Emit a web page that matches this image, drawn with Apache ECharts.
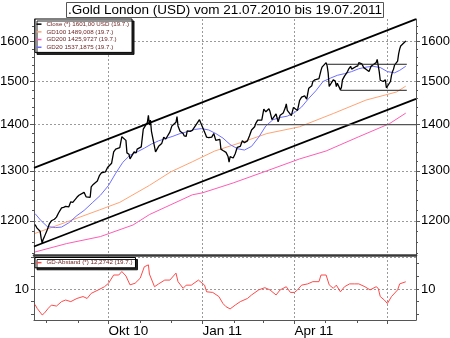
<!DOCTYPE html>
<html>
<head>
<meta charset="utf-8">
<script src="https://cdn.jsdelivr.net/npm/echarts@6/dist/echarts.min.js"></script>
<style>
html,body{margin:0;padding:0;background:#fff;}
#chart{width:450px;height:338px;}
</style>
</head>
<body>
<div id="chart"></div>
<script>
// Gold London fix, daily close (USD)
const closeDates = [
'2010-07-21','2010-07-22','2010-07-23','2010-07-26','2010-07-27','2010-07-28','2010-07-29','2010-07-30',
'2010-08-02','2010-08-04','2010-08-06','2010-08-09','2010-08-11','2010-08-13','2010-08-16','2010-08-18','2010-08-20','2010-08-23','2010-08-25','2010-08-27','2010-08-31',
'2010-09-02','2010-09-07','2010-09-09','2010-09-13','2010-09-14','2010-09-16','2010-09-20','2010-09-22','2010-09-24','2010-09-28','2010-09-30',
'2010-10-04','2010-10-06','2010-10-08','2010-10-12','2010-10-14','2010-10-18','2010-10-19','2010-10-21','2010-10-22','2010-10-26','2010-10-28','2010-10-29',
'2010-11-02','2010-11-04','2010-11-05','2010-11-08','2010-11-09','2010-11-10','2010-11-11','2010-11-12','2010-11-16','2010-11-17','2010-11-19','2010-11-22','2010-11-24','2010-11-26','2010-11-30',
'2010-12-02','2010-12-06','2010-12-07','2010-12-08','2010-12-10','2010-12-13','2010-12-14','2010-12-16','2010-12-17','2010-12-20','2010-12-22','2010-12-23','2010-12-29','2010-12-30','2010-12-31',
'2011-01-04','2011-01-05','2011-01-07','2011-01-10','2011-01-12','2011-01-14','2011-01-18','2011-01-19','2011-01-21','2011-01-24','2011-01-26','2011-01-27','2011-01-28','2011-01-31',
'2011-02-02','2011-02-04','2011-02-07','2011-02-09','2011-02-11','2011-02-14','2011-02-16','2011-02-18','2011-02-21','2011-02-22','2011-02-24','2011-02-28',
'2011-03-02','2011-03-04','2011-03-07','2011-03-08','2011-03-10','2011-03-14','2011-03-16','2011-03-17','2011-03-18','2011-03-21','2011-03-23','2011-03-24','2011-03-25','2011-03-29','2011-03-31',
'2011-04-04','2011-04-06','2011-04-08','2011-04-11','2011-04-13','2011-04-15','2011-04-18','2011-04-19','2011-04-21','2011-04-25','2011-04-26','2011-04-27','2011-04-28',
'2011-05-02','2011-05-03','2011-05-04','2011-05-05','2011-05-06','2011-05-09','2011-05-11','2011-05-12','2011-05-13','2011-05-16','2011-05-17','2011-05-18','2011-05-20','2011-05-23','2011-05-24','2011-05-26','2011-05-27','2011-05-31',
'2011-06-02','2011-06-03','2011-06-06','2011-06-07','2011-06-08','2011-06-10','2011-06-13','2011-06-15','2011-06-17','2011-06-20','2011-06-21','2011-06-22','2011-06-23','2011-06-24','2011-06-27','2011-06-28','2011-06-29','2011-06-30',
'2011-07-01','2011-07-04','2011-07-05','2011-07-06','2011-07-07','2011-07-08','2011-07-11','2011-07-12','2011-07-13','2011-07-14','2011-07-15','2011-07-18','2011-07-19'
];
const closeValues = [
1193,1190,1186,1180,1167,1158,1165,1169,
1183,1194,1200,1203,1207,1215,1225,1226,1228,1227,1237,1236,1246,
1250,1256,1247,1246,1267,1272,1279,1290,1296,1298,1307,
1316,1340,1346,1349,1373,1365,1338,1335,1325,1340,1338,1346,
1351,1390,1393,1405,1421,1399,1410,1385,1340,1338,1352,1358,1372,1368,1383,
1397,1405,1418,1397,1385,1380,1375,1374,1386,1385,1387,1384,1411,1405,1405,
1378,1372,1371,1372,1380,1365,1367,1346,1343,1339,1330,1318,1330,1327,
1336,1350,1352,1364,1360,1364,1375,1388,1395,1402,1410,1410,
1435,1429,1436,1430,1411,1424,1406,1404,1421,1426,1438,1447,1432,1420,1439,
1432,1455,1463,1466,1458,1484,1490,1500,1504,1507,1505,1527,1535,
1546,1538,1521,1488,1487,1504,1501,1488,1496,1480,1486,1504,1513,1524,1530,1537,1530,1536,
1538,1546,1543,1545,1533,1530,1524,1537,1541,1546,1554,1552,1524,1503,1500,1497,1504,1485,
1483,1500,1515,1524,1530,1540,1550,1568,1580,1588,1590,1598,1601
];

// 20-day moving average
const gd20Dates = ['2010-07-21','2010-07-27','2010-08-02','2010-08-10','2010-08-16','2010-08-23','2010-08-31','2010-09-07','2010-09-15','2010-09-23','2010-10-01','2010-10-08','2010-10-15','2010-10-22','2010-10-29','2010-11-05','2010-11-12','2010-11-19','2010-11-26','2010-12-03','2010-12-10','2010-12-17','2010-12-24','2010-12-31','2011-01-07','2011-01-14','2011-01-21','2011-01-28','2011-02-04','2011-02-11','2011-02-18','2011-02-25','2011-03-04','2011-03-11','2011-03-18','2011-03-25','2011-04-01','2011-04-08','2011-04-15','2011-04-22','2011-04-29','2011-05-06','2011-05-13','2011-05-20','2011-05-27','2011-06-03','2011-06-10','2011-06-17','2011-06-24','2011-07-01','2011-07-08','2011-07-13','2011-07-19'];
const gd20Values = [1214,1200,1189,1187,1188,1196,1210,1220,1235,1250,1270,1295,1318,1333,1340,1348,1357,1364,1369,1374,1380,1384,1389,1391,1388,1380,1370,1356,1347,1344,1352,1372,1397,1411,1416,1419,1427,1440,1460,1478,1500,1508,1515,1519,1524,1531,1535,1537,1534,1524,1521,1527,1537.19];

// 100-day moving average
const gd100Dates = ['2010-07-21','2010-08-20','2010-09-22','2010-10-12','2010-11-10','2010-12-01','2010-12-22','2011-01-13','2011-02-10','2011-03-05','2011-04-06','2011-05-09','2011-06-10','2011-07-10','2011-07-19'];
const gd100Values = [1176,1197,1221,1236,1270,1298,1319,1342,1362,1380,1395,1425,1456,1475,1489.01];

// 200-day moving average
const gd200Dates = ['2010-07-21','2010-08-21','2010-09-23','2010-10-25','2010-11-10','2010-12-22','2011-01-01','2011-01-31','2011-03-05','2011-04-06','2011-05-02','2011-06-03','2011-07-03','2011-07-19'];
const gd200Values = [1141.5,1157,1170,1192,1212,1251,1255,1275,1300,1325,1342,1373,1402,1425.97];

// Distance of close from the 200-day average, percent
const abstandDates = ['2010-07-21','2010-07-23','2010-07-28','2010-07-30','2010-08-03','2010-08-06','2010-08-11','2010-08-16','2010-08-20','2010-08-25','2010-08-31','2010-09-06','2010-09-10','2010-09-14','2010-09-21','2010-09-27','2010-10-01','2010-10-06','2010-10-11','2010-10-14','2010-10-18','2010-10-22','2010-10-27','2010-11-01','2010-11-05','2010-11-09','2010-11-10','2010-11-15','2010-11-19','2010-11-25','2010-11-30','2010-12-06','2010-12-08','2010-12-13','2010-12-16','2010-12-21','2010-12-28','2011-01-03','2011-01-05','2011-01-11','2011-01-17','2011-01-21','2011-01-24','2011-01-28','2011-02-02','2011-02-07','2011-02-14','2011-02-18','2011-02-25','2011-03-03','2011-03-08','2011-03-14','2011-03-18','2011-03-24','2011-03-28','2011-04-01','2011-04-04','2011-04-08','2011-04-14','2011-04-19','2011-04-25','2011-04-27','2011-05-02','2011-05-05','2011-05-09','2011-05-12','2011-05-16','2011-05-20','2011-05-25','2011-05-30','2011-06-03','2011-06-09','2011-06-14','2011-06-20','2011-06-22','2011-06-24','2011-06-28','2011-07-01','2011-07-05','2011-07-11','2011-07-13','2011-07-19'];
const abstandValues = [5.1,3.9,1.8,2.3,3.9,4.9,4.6,6.0,6.5,6.0,7.0,7.6,7.0,8.6,9.7,10.7,11.8,14.4,14.4,15.5,14.1,11.3,11.8,13.4,17.0,17.6,14.7,10.7,11.6,12.8,12.8,15.0,12.3,10.2,11.2,11.2,12.8,11.2,9.1,8.9,7.6,5.4,4.4,3.7,4.9,6.0,7.0,8.1,9.7,10.4,9.7,8.1,9.7,10.7,8.9,8.9,9.7,11.2,11.6,12.3,12.3,14.4,14.4,11.3,10.2,11.2,9.1,10.7,11.6,11.6,11.6,10.7,9.7,10.7,10.2,7.6,6.5,5.4,7.6,9.7,11.6,12.27];

// Trend channel and horizontal support / resistance lines
const channelDates = ['2010-07-20','2011-07-29'];
const channelUpper = [1306,1657.5];
const channelLower = [1151.6,1459];
const resistanceDates = ['2011-05-03','2011-07-20'];
const resistanceValues = [1542,1542];
const supportDates = ['2011-05-16','2011-07-20'];
const supportValues = [1479,1479];
const level1400Dates = ['2011-02-23','2011-07-29'];
const level1400Values = [1400,1400];

// Axis ticks
const priceTicks = [1200,1300,1400,1500,1600];
const priceMinorTicks = [1140,1160,1180,1220,1240,1260,1280,1320,1340,1360,1380,1420,1440,1460,1480,1520,1540,1560,1580,1620,1640];
const abstandGrid = [10,20];
const abstandLabels = [10];
const abstandTicks = [2,6,10,14,18];
const quarterStarts = ['2010-10-01','2011-01-01','2011-04-01','2011-07-01'];
const quarterLabels = ['2010-10-01','2011-01-01','2011-04-01'];
const monthStarts = ['2010-08-01','2010-09-01','2010-10-01','2010-11-01','2010-12-01','2011-01-01','2011-02-01','2011-03-01','2011-04-01','2011-05-01','2011-06-01','2011-07-01'];
const monthNames = ['Jan','Feb','Mär','Apr','Mai','Jun','Jul','Aug','Sep','Okt','Nov','Dez'];

const xMin = '2010-07-20', xMax = '2011-07-29';

// dates are placed on a linear value axis measured in milliseconds
function ts(s) { const p = s.split('-'); return Date.UTC(+p[0], +p[1] - 1, +p[2]); }
function pairs(dates, vals) { return dates.map((d, i) => [ts(d), vals[i]]); }

const FONT = "'Liberation Sans', Arial, sans-serif";
const AXIS_COLOR = '#555';
const GRID_LINE = { show: true, lineStyle: { color: '#9a9a9a', type: [2, 2], width: 1 } };

function priceAxis(pos, opts) {
  return Object.assign({
    type: 'log', logBase: 10, gridIndex: 0, position: pos,
    min: 1136, max: 1658,
    axisLine: { show: true, lineStyle: { color: AXIS_COLOR, width: 1 } },
    axisTick: { show: true, length: 4, lineStyle: { color: AXIS_COLOR }, customValues: priceTicks },
    axisLabel: { show: true, customValues: priceTicks, fontSize: 13, color: '#000', fontFamily: FONT, margin: 5,
      formatter: v => String(Math.round(v)) },
    splitLine: { show: false }, minorTick: { show: false }, minorSplitLine: { show: false }
  }, opts);
}
function minorPriceAxis(pos) {
  return {
    type: 'log', logBase: 10, gridIndex: 0, position: pos, min: 1136, max: 1658,
    axisLine: { show: false },
    axisTick: { show: true, length: 2, lineStyle: { color: AXIS_COLOR }, customValues: priceMinorTicks },
    axisLabel: { show: false }, splitLine: { show: false }
  };
}
function abstandAxis(pos, opts) {
  return Object.assign({
    type: 'value', gridIndex: 1, position: pos, min: 0.2, max: 20.4,
    axisLine: { show: true, lineStyle: { color: AXIS_COLOR, width: 1 } },
    axisTick: { show: true, length: 3, lineStyle: { color: AXIS_COLOR }, customValues: abstandTicks },
    axisLabel: { show: true, customValues: abstandLabels, fontSize: 13, color: '#000', fontFamily: FONT, margin: 5 },
    splitLine: { show: false }
  }, opts);
}
function dateAxis(grid, opts) {
  return Object.assign({
    type: 'value', gridIndex: grid, position: 'bottom', min: ts(xMin), max: ts(xMax), scale: true,
    axisLine: { show: false, onZero: false },
    axisTick: { show: false },
    axisLabel: { show: false },
    splitLine: { show: false }
  }, opts);
}

const chart = echarts.init(document.getElementById('chart'), null, { renderer: 'canvas' });

const option = {
  animation: false,
  backgroundColor: '#fff',
  title: {
    text: '.Gold London (USD) vom 21.07.2010 bis 19.07.2011',
    left: 'center', top: 2,
    borderColor: '#555', borderWidth: 1, backgroundColor: '#fff',
    padding: [1, 2, 0, 2],
    textStyle: { fontSize: 13.5, fontWeight: 'normal', color: '#000', fontFamily: FONT, lineHeight: 15 }
  },
  legend: [
    {
      orient: 'vertical', left: 35, top: 19,
      data: ['Close (*) 1601,00 USD (19.7.)', 'GD100 1489,008 (19.7.)', 'GD200 1425,9727 (19.7.)', 'GD20 1537,1875 (19.7.)'],
      icon: 'rect', itemWidth: 5, itemHeight: 1.5, itemGap: 1.4,
      padding: [2, 3, 2, 1.5],
      backgroundColor: '#fff', borderColor: '#000', borderWidth: 1,
      shadowColor: 'rgba(0,0,0,0.85)', shadowOffsetX: 2, shadowOffsetY: 2, shadowBlur: 0,
      textStyle: { fontSize: 6.2, color: '#6e2525', fontFamily: FONT, lineHeight: 6.3 },
      selectedMode: false
    },
    {
      orient: 'vertical', left: 35, top: 257.5,
      data: ['GD-Abstand (*) 12,2742 (19.7.)'],
      icon: 'rect', itemWidth: 5, itemHeight: 1.5,
      padding: [2, 3, 2, 1.5],
      backgroundColor: '#fff', borderColor: '#000', borderWidth: 1,
      shadowColor: 'rgba(0,0,0,0.85)', shadowOffsetX: 2, shadowOffsetY: 2, shadowBlur: 0,
      textStyle: { fontSize: 6.2, color: '#6e2525', fontFamily: FONT, lineHeight: 6.3 },
      selectedMode: false
    }
  ],
  grid: [
    { left: 34, right: 34, top: 19, height: 236, outerBoundsMode: 'none', containLabel: false },
    { left: 34, right: 34, top: 256, height: 64, outerBoundsMode: 'none', containLabel: false }
  ],
  xAxis: [
    // main panel: quarter grid lines, thick separator at the bottom
    dateAxis(0, {
      axisLine: { show: true, onZero: false, lineStyle: { color: '#3a3a3a', width: 2.5 } },
      axisTick: { show: false, customValues: quarterStarts.map(ts) },
      splitLine: GRID_LINE
    }),
    // lower panel: quarter labels and grid lines
    dateAxis(1, {
      axisLine: { show: true, onZero: false, lineStyle: { color: AXIS_COLOR, width: 1.2 } },
      axisTick: { show: true, length: 4, lineStyle: { color: AXIS_COLOR }, customValues: quarterStarts.map(ts) },
      axisLabel: {
        show: true, customValues: quarterLabels.map(ts), align: 'left', margin: 4,
        fontSize: 13.5, color: '#000', fontFamily: FONT,
        formatter: v => { const d = new Date(v); return monthNames[d.getUTCMonth()] + ' ' + String(d.getUTCFullYear()).slice(2); }
      },
      splitLine: GRID_LINE
    }),
    // lower panel: month ticks
    dateAxis(1, {
      axisTick: { show: true, length: 3, lineStyle: { color: AXIS_COLOR }, customValues: monthStarts.map(ts) }
    })
  ],
  yAxis: [
    priceAxis('left', { splitLine: GRID_LINE }),
    priceAxis('right', {}),
    minorPriceAxis('left'),
    minorPriceAxis('right'),
    abstandAxis('left', {
      axisTick: { show: true, length: 3, lineStyle: { color: AXIS_COLOR }, customValues: abstandGrid },
      splitLine: GRID_LINE
    }),
    abstandAxis('right', {}),
    {
      type: 'value', gridIndex: 1, position: 'left', min: 0.2, max: 20.4,
      axisLine: { show: false },
      axisTick: { show: true, length: 3, lineStyle: { color: AXIS_COLOR }, customValues: abstandTicks },
      axisLabel: { show: false }, splitLine: { show: false }
    }
  ],
  series: [
    { name: 'GD200 1425,9727 (19.7.)', type: 'line', xAxisIndex: 0, yAxisIndex: 0, data: pairs(gd200Dates, gd200Values),
      showSymbol: false, symbol: 'none', color: '#ff5cb4', lineStyle: { width: 1, color: '#ff5cb4' } },
    { name: 'GD100 1489,008 (19.7.)', type: 'line', xAxisIndex: 0, yAxisIndex: 0, data: pairs(gd100Dates, gd100Values),
      showSymbol: false, symbol: 'none', color: '#ffa374', lineStyle: { width: 1, color: '#ffa374' } },
    { name: 'GD20 1537,1875 (19.7.)', type: 'line', xAxisIndex: 0, yAxisIndex: 0, data: pairs(gd20Dates, gd20Values),
      showSymbol: false, symbol: 'none', color: '#6f6fff', lineStyle: { width: 1, color: '#6f6fff' } },
    { name: 'Close (*) 1601,00 USD (19.7.)', type: 'line', xAxisIndex: 0, yAxisIndex: 0, data: pairs(closeDates, closeValues),
      showSymbol: false, symbol: 'none', color: '#000', lineStyle: { width: 1.3, color: '#000' } },
    { name: 'upper channel', type: 'line', xAxisIndex: 0, yAxisIndex: 0, data: pairs(channelDates, channelUpper),
      showSymbol: false, symbol: 'none', lineStyle: { width: 1.8, color: '#000' } },
    { name: 'lower channel', type: 'line', xAxisIndex: 0, yAxisIndex: 0, data: pairs(channelDates, channelLower),
      showSymbol: false, symbol: 'none', lineStyle: { width: 1.8, color: '#000' } },
    { name: 'resistance', type: 'line', xAxisIndex: 0, yAxisIndex: 0, data: pairs(resistanceDates, resistanceValues),
      showSymbol: false, symbol: 'none', lineStyle: { width: 1, color: '#222' } },
    { name: 'support', type: 'line', xAxisIndex: 0, yAxisIndex: 0, data: pairs(supportDates, supportValues),
      showSymbol: false, symbol: 'none', lineStyle: { width: 1, color: '#222' } },
    { name: 'level 1400', type: 'line', xAxisIndex: 0, yAxisIndex: 0, data: pairs(level1400Dates, level1400Values),
      showSymbol: false, symbol: 'none', lineStyle: { width: 1.3, color: '#555' } },
    { name: 'GD-Abstand (*) 12,2742 (19.7.)', type: 'line', xAxisIndex: 1, yAxisIndex: 4, data: pairs(abstandDates, abstandValues),
      showSymbol: false, symbol: 'none', color: '#ff4a4a', lineStyle: { width: 1, color: '#ff4a4a' } }
  ]
};

chart.setOption(option);
</script>
</body>
</html>
